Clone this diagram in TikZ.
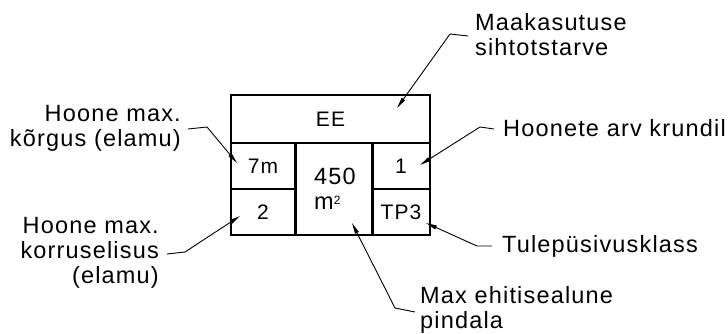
\documentclass[tikz,border=0pt]{standalone}
\usepackage{fontspec}
\setmainfont{Liberation Sans}[LetterSpace=5]
\usetikzlibrary{arrows.meta}
\begin{document}
\begin{tikzpicture}[x=1pt,y=-1pt,
  cell/.style={draw, line width=1.1pt, inner sep=0pt, font=\fontsize{21}{23}\selectfont},
  lbl/.style={inner sep=0pt, font=\fontsize{23.5}{25}\selectfont},
  lead/.style={line width=0.9pt, -{Triangle[length=11pt,width=4pt]}},
  sep/.style={line width=1.8pt}]
\useasboundingbox (0,0) rectangle (728,334);
% cells
\node[cell, minimum width=199pt, minimum height=48pt] (ee) at (330.5,119) {EE};
\node[cell, minimum width=64pt, minimum height=46pt] (c7) at (263,166) {7m};
\node[cell, minimum width=64pt, minimum height=46pt] (c2) at (263,212) {2};
\node[cell, minimum width=77pt, minimum height=92pt, align=left,
      font=\fontsize{23.5}{25}\selectfont] (ca) at (335,189) {450\\m\raisebox{5pt}{\fontsize{12}{12}\selectfont 2}};
\node[cell, minimum width=58pt, minimum height=46pt] (c1) at (401,166) {1};
\node[cell, minimum width=58pt, minimum height=46pt] (ctp) at (401,212) {TP3};
\draw[sep] (ee.south west) -- (ee.south east);
\draw[sep] (c7.south west) -- (c7.south east);
% labels
\node[lbl, anchor=west, align=left] (lA) at (475,35) {Maakasutuse\\sihtotstarve};
\node[lbl, anchor=west] (lB) at (503,128) {Hoonete arv krundil};
\node[lbl, anchor=west] (lC) at (502,246) {Tulepüsivusklass};
\node[lbl, anchor=west, align=left] (lD) at (420,310) {Max ehitisealune\\pindala};
\node[lbl, anchor=east, align=right] (lE) at (181,128) {Hoone max.\\kõrgus (elamu)};
\node[lbl, anchor=east, align=right] (lF) at (159,253) {Hoone max.\\korruselisus\\(elamu)};
% leader bends and tips
\coordinate (bA) at (450,34);  \coordinate (tA) at (397,108);
\coordinate (bB) at (480,127); \coordinate (tB) at (420,165);
\coordinate (bC) at (477,246); \coordinate (tC) at (426,223);
\coordinate (bD) at (395,308); \coordinate (tD) at (352,223);
\coordinate (bE) at (207,127); \coordinate (tE) at (237,163);
\coordinate (bF) at (185,252); \coordinate (tF) at (240,216);
\draw[lead] ([xshift=-7pt,yshift=-1pt]lA.west) -- (bA) -- (tA);
\draw[lead] ([xshift=-9pt,yshift=-1pt]lB.west) -- (bB) -- (tB);
\draw[lead] ([xshift=-10pt]lC.west) -- (bC) -- (tC);
\draw[lead] ([xshift=-5pt,yshift=-2pt]lD.west) -- (bD) -- (tD);
\draw[lead] ([xshift=7pt,yshift=-1pt]lE.east) -- (bE) -- (tE);
\draw[lead] ([xshift=8pt,yshift=-1pt]lF.east) -- (bF) -- (tF);
\end{tikzpicture}
\end{document}
